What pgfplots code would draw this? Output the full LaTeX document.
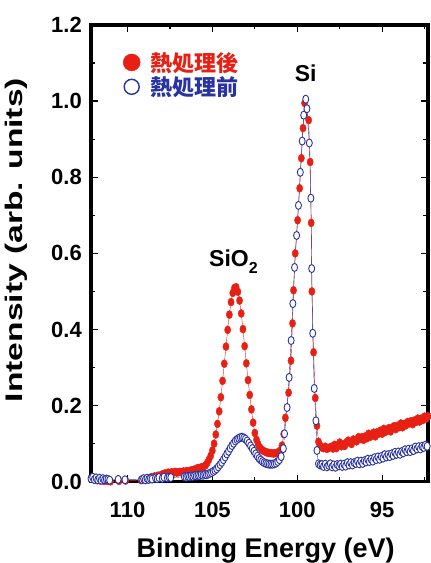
\documentclass[border=0pt]{standalone}
\usepackage{pgfplots}
\pgfplotsset{compat=1.18}
\usepackage{pgfplotstable}
\usepackage{graphicx}
\usepackage{fontspec}
\setmainfont{Liberation Sans}
\newfontfamily\cjk{Noto Sans CJK JP}
\definecolor{myred}{RGB}{232,32,20}
\definecolor{myblue}{RGB}{40,50,160}

\pgfplotstableread{
E I
112.10 0.010
112.00 0.006
111.90 0.008
111.80 0.004
111.70 0.006
111.60 0.003
111.50 0.005
111.40 0.002
111.30 0.004
111.20 0.002
111.10 0.003
111.00 0.001
110.50 0.002
110.10 0.003
109.20 0.004
109.10 0.006
109.00 0.005
108.90 0.008
108.80 0.006
108.70 0.009
108.60 0.012
108.50 0.010
108.40 0.014
108.30 0.012
108.20 0.016
108.10 0.015
108.00 0.018
107.90 0.020
107.80 0.022
107.70 0.020
107.60 0.024
107.50 0.022
107.40 0.025
107.30 0.023
107.20 0.026
107.10 0.024
107.00 0.025
106.90 0.026
106.80 0.024
106.70 0.027
106.60 0.026
106.50 0.028
106.40 0.027
106.30 0.029
106.20 0.030
106.10 0.031
106.00 0.033
105.90 0.035
105.80 0.036
105.70 0.037
105.60 0.038
105.50 0.040
105.40 0.043
105.30 0.050
105.20 0.058
105.10 0.068
105.00 0.082
104.90 0.100
104.80 0.124
104.70 0.152
104.60 0.185
104.50 0.222
104.40 0.265
104.30 0.310
104.20 0.355
104.10 0.399
104.00 0.439
103.90 0.472
103.80 0.496
103.70 0.509
103.60 0.511
103.50 0.499
103.40 0.476
103.30 0.442
103.20 0.401
103.10 0.356
103.00 0.311
102.90 0.267
102.80 0.228
102.70 0.190
102.60 0.155
102.50 0.128
102.40 0.110
102.30 0.098
102.20 0.090
102.10 0.084
102.00 0.081
101.90 0.079
101.80 0.077
101.70 0.076
101.60 0.075
101.50 0.075
101.40 0.074
101.30 0.075
101.20 0.076
101.10 0.078
101.00 0.082
100.90 0.095
100.80 0.125
100.70 0.168
100.51 0.234
100.37 0.318
100.28 0.416
100.22 0.503
100.12 0.600
99.98 0.687
99.86 0.771
99.76 0.850
99.66 0.929
99.57 0.995
99.33 0.950
99.24 0.840
99.18 0.680
99.14 0.500
99.04 0.340
98.94 0.220
98.84 0.147
98.75 0.105
98.65 0.095
98.55 0.090
98.45 0.088
98.35 0.092
98.25 0.086
98.15 0.089
98.00 0.092
97.90 0.087
97.80 0.097
97.70 0.088
97.60 0.096
97.50 0.103
97.40 0.093
97.30 0.098
97.20 0.094
97.10 0.104
97.00 0.108
96.90 0.102
96.80 0.099
96.70 0.111
96.60 0.109
96.50 0.106
96.40 0.117
96.30 0.112
96.20 0.117
96.10 0.110
96.00 0.119
95.90 0.114
95.80 0.126
95.70 0.118
95.60 0.124
95.50 0.129
95.40 0.119
95.30 0.130
95.20 0.126
95.10 0.134
95.00 0.126
94.90 0.139
94.80 0.131
94.70 0.135
94.60 0.141
94.50 0.132
94.40 0.142
94.30 0.146
94.20 0.138
94.10 0.147
94.00 0.143
93.90 0.153
93.80 0.143
93.70 0.152
93.60 0.148
93.50 0.157
93.40 0.153
93.30 0.159
93.20 0.151
93.10 0.161
93.00 0.157
92.90 0.166
92.80 0.158
92.70 0.166
92.60 0.162
92.50 0.171
92.40 0.166
92.30 0.172
}\after

\pgfplotstableread{
E I
112.15 0.008
112.05 0.012
111.95 0.006
111.85 0.010
111.75 0.005
111.65 0.009
111.55 0.004
111.45 0.008
111.35 0.005
111.25 0.007
111.15 0.006
111.05 0.004
110.55 0.006
110.15 0.005
109.15 0.006
109.05 0.008
108.95 0.005
108.85 0.009
108.75 0.006
108.65 0.008
108.55 0.007
108.35 0.010
108.25 0.008
108.15 0.011
107.95 0.009
107.85 0.012
107.65 0.010
107.55 0.012
107.45 0.011
106.65 0.013
106.55 0.012
106.45 0.014
106.35 0.013
106.25 0.015
106.15 0.014
106.05 0.016
105.95 0.015
105.85 0.017
105.75 0.016
105.65 0.018
105.55 0.017
105.45 0.019
105.35 0.018
105.25 0.020
105.15 0.022
105.05 0.024
104.95 0.027
104.85 0.030
104.75 0.034
104.65 0.039
104.55 0.045
104.45 0.051
104.35 0.058
104.25 0.065
104.15 0.073
104.05 0.080
103.95 0.088
103.85 0.095
103.75 0.101
103.65 0.107
103.55 0.111
103.45 0.114
103.35 0.116
103.25 0.117
103.15 0.115
103.05 0.112
102.95 0.107
102.85 0.101
102.75 0.094
102.65 0.087
102.55 0.080
102.45 0.073
102.35 0.067
102.25 0.061
102.15 0.057
102.05 0.053
101.95 0.050
101.85 0.048
101.75 0.047
101.65 0.046
101.55 0.046
101.45 0.046
101.35 0.047
101.25 0.049
101.15 0.053
101.05 0.058
100.95 0.066
100.82 0.087
100.75 0.126
100.60 0.195
100.48 0.274
100.36 0.371
100.26 0.468
100.16 0.563
100.04 0.647
99.93 0.726
99.82 0.813
99.71 0.895
99.62 0.963
99.50 1.005
99.43 0.980
99.29 0.890
99.20 0.745
99.15 0.560
99.09 0.390
99.00 0.245
98.90 0.160
98.84 0.082
98.75 0.047
98.65 0.044
98.55 0.045
98.45 0.040
98.35 0.046
98.25 0.039
98.15 0.043
98.05 0.047
97.95 0.039
97.85 0.044
97.75 0.038
97.65 0.045
97.55 0.042
97.45 0.046
97.35 0.040
97.25 0.046
97.15 0.041
97.05 0.050
96.95 0.044
96.85 0.050
96.75 0.044
96.65 0.050
96.55 0.048
96.45 0.054
96.35 0.047
96.25 0.054
96.15 0.048
96.05 0.055
95.95 0.052
95.85 0.059
95.75 0.053
95.65 0.059
95.55 0.054
95.45 0.063
95.35 0.058
95.25 0.065
95.15 0.059
95.05 0.066
94.95 0.062
94.85 0.071
94.75 0.065
94.65 0.071
94.55 0.066
94.45 0.073
94.35 0.069
94.25 0.077
94.15 0.072
94.05 0.078
93.95 0.072
93.85 0.079
93.75 0.076
93.65 0.084
93.55 0.079
93.45 0.085
93.35 0.079
93.25 0.086
93.15 0.082
93.05 0.091
92.95 0.086
92.85 0.092
92.75 0.086
92.65 0.093
92.55 0.090
92.45 0.096
92.35 0.093
}\before

\begin{document}
\begin{tikzpicture}
\begin{axis}[
  scale only axis,
  width=337pt, height=456.7pt,
  x dir=reverse,
  xmin=92.3, xmax=112.15,
  ymin=0, ymax=1.2,
  clip=false,
  xtick={95,100,105,110},
  minor xtick={92.5,97.5,102.5,107.5},
  ytick={0,0.2,0.4,0.6,0.8,1.0,1.2},
  minor ytick={0.1,0.3,0.5,0.7,0.9,1.1},
  /pgf/number format/assume math mode=true,
  tick align=inside,
  major tick length=7pt,
  minor tick length=4.5pt,
  every tick/.style={black, line width=1.3pt},
  axis line style={line width=3.5pt, line cap=rect},
  tick label style={font=\fontsize{22}{22}\selectfont\bfseries},
  yticklabel style={/pgf/number format/fixed, /pgf/number format/fixed zerofill, /pgf/number format/precision=1, anchor=east, inner sep=0pt, xshift=-9pt},
  xticklabel style={anchor=north, inner sep=0pt, yshift=-20pt},
  xlabel={Binding Energy (eV)},
  ylabel={\scalebox{1.4}[1]{Intensity (arb. units)}},
  every axis x label/.style={at={(axis description cs:0.518,0)}, anchor=base, yshift=-76pt, inner sep=0pt, font=\fontsize{27}{27}\selectfont\bfseries},
  every axis y label/.style={at={(axis description cs:-0.2226,0.529)}, rotate=90, anchor=center, inner sep=0pt, font=\fontsize{24}{24}\selectfont\bfseries},
  legend image code/.code={\draw[#1] plot coordinates {(0pt,0pt)};},
  legend style={at={(axis description cs:0,1)}, anchor=north west, xshift=32pt, yshift=-27pt,
    draw=none, fill=none, inner sep=0pt, row sep=4pt, column sep=10pt,
    font=\cjk\fontsize{22}{22}\selectfont\bfseries,
    nodes={inner sep=0pt}},
  legend cell align=left,
]
\addlegendimage{only marks, mark=*, mark size=8.5pt, color=myred}
\addlegendentry{\textcolor{myred}{熱処理後}}
\addlegendimage{only marks, mark=*, mark size=7.5pt, draw=myblue, fill=white, line width=1.4pt}
\addlegendentry{\textcolor{myblue}{熱処理前}}

\addplot[forget plot, color=myred, line width=0.4pt, mark=*, mark size=3.1pt,
  mark options={fill=myred, draw=myred, yscale=1.3}] table[x=E, y=I] {\after};
\addplot[forget plot, color=myblue, line width=0.4pt, mark=*, mark size=3.0pt,
  mark options={fill=white, draw=myblue, line width=0.9pt, yscale=1.35}] table[x=E, y=I] {\before};

\node[anchor=base, font=\fontsize{23}{23}\selectfont\bfseries] at (axis cs:99.5,1.051) {Si};
\node[anchor=base, font=\fontsize{23}{23}\selectfont\bfseries] at (axis cs:103.76,0.565) {SiO\raisebox{-0.28em}{\fontsize{16}{16}\selectfont 2}};

\coordinate (sw) at (axis description cs:0,0);
\coordinate (ne) at (axis description cs:1,1);
\end{axis}
\pgfresetboundingbox
\path[use as bounding box] ([xshift=-91pt,yshift=-81.3pt]sw) rectangle ([xshift=3pt,yshift=25pt]ne);
\end{tikzpicture}
\end{document}
